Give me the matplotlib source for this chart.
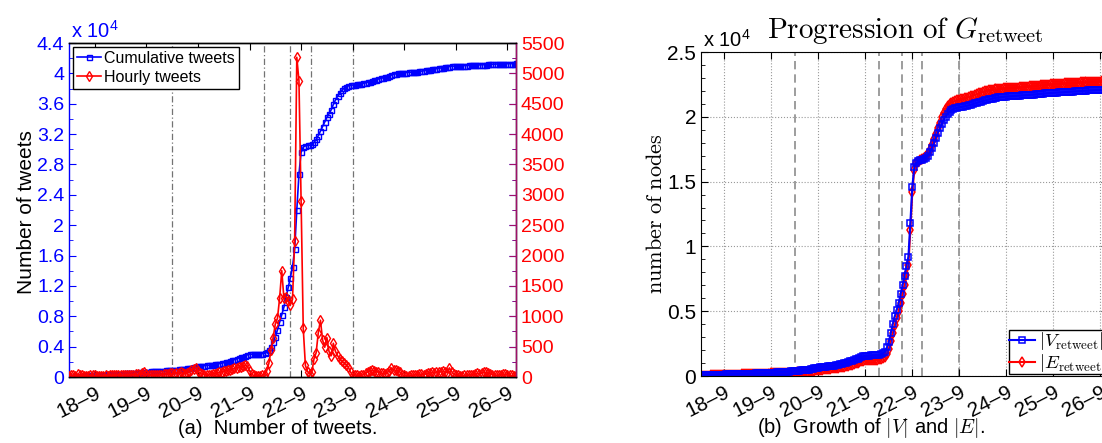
import numpy as np
import matplotlib
matplotlib.use('Agg')
import matplotlib.pyplot as plt
from matplotlib.ticker import MultipleLocator, FuncFormatter
from matplotlib.font_manager import FontProperties

plt.rcParams['font.family'] = ['Liberation Sans', 'DejaVu Sans']
plt.rcParams['mathtext.fontset'] = 'custom'
plt.rcParams['mathtext.rm'] = 'Liberation Sans'
plt.rcParams['mathtext.it'] = 'Liberation Sans:italic'

# hourly data, first sample at 17-9 12:00
hourly_tweets = (
    [20, 35, 25, 20, 45, 30, 25, 20, 15, 20, 25, 30]
    + [25, 20, 15, 15, 20, 25, 20, 25, 30, 25, 30, 35, 30, 25, 30, 35, 40, 35, 40, 50, 45, 40, 60, 90]
    + [45, 35, 30, 30, 25, 30, 35, 40, 45, 50, 55, 60, 60, 55, 70, 65, 80, 60, 55, 70, 90, 110, 130, 143]
    + [95, 60, 45, 40, 35, 35, 40, 50, 55, 65, 75, 85, 95, 105, 115, 120, 130, 140, 150, 160, 165, 175, 200, 180]
    + [100, 45, 25, 15, 15, 20, 30, 40]
    + [100, 226, 445, 650, 873, 967, 1296, 1751, 1300, 1322, 1250, 1186, 1280, 2235, 5265, 4880, 2904, 800, 190, 90,
       50, 80, 300, 400, 730, 935, 610, 490, 650, 420, 350, 555, 420, 350, 300, 260, 230, 200, 160, 80, 30]
    + [40, 25, 20, 25, 40, 60, 85, 100, 110, 105, 90, 80, 70, 60, 55, 70, 100, 150, 120, 110, 100, 80, 40, 25]
    + [20, 20, 25, 30, 35, 40, 50, 45, 40, 50, 60, 70, 75, 70, 80, 85, 90, 95, 80, 70, 150, 90, 50, 30]
    + [25, 20, 20, 25, 30, 35, 30, 40, 50, 60, 55, 70, 80, 75, 60, 50, 40, 30, 25, 30, 40, 50, 45, 35, 30, 25, 20, 20]
)

cumulative_tweets = (
    [0, 30, 60, 80, 110, 140, 160, 180, 190, 200, 220, 240]
    + [255, 270, 280, 290, 305, 320, 335, 350, 370, 385, 400, 420, 435, 450, 465, 480, 500, 520, 540, 560, 585, 610, 640, 680]
    + [700, 720, 735, 750, 765, 780, 800, 820, 840, 860, 880, 900, 920, 945, 970, 1000, 1030, 1060, 1090, 1120, 1170, 1230, 1290, 1350]
    + [1400, 1430, 1460, 1490, 1520, 1550, 1580, 1620, 1660, 1710, 1760, 1820, 1880, 1950, 2020, 2100, 2200, 2300, 2400, 2500, 2600, 2700, 2820, 2920]
    + [2980, 3010, 3030, 3040, 3050, 3060, 3080, 3110]
    + [3250, 3550, 4000, 4600, 5300, 6200, 7200, 8200, 9200, 10500, 11800, 13100, 14500, 16800, 22000, 26700, 29600, 30300, 30450, 30500,
       30550, 30650, 30900, 31300, 31800, 32400, 33000, 33600, 34200, 34700, 35200, 35900, 36500, 37000, 37450, 37800, 38050, 38250, 38350, 38420, 38460]
    + [38500, 38540, 38580, 38620, 38680, 38750, 38830, 38920, 39010, 39110, 39190, 39260, 39330, 39400, 39470, 39550, 39650, 39780, 39870, 39940, 40000, 40040, 40070, 40090]
    + [40110, 40130, 40150, 40170, 40200, 40230, 40260, 40300, 40340, 40390, 40440, 40490, 40530, 40570, 40620, 40670, 40720, 40770, 40820, 40860, 40900, 40940, 40960, 40980]
    + [40990, 41000, 41010, 41020, 41030, 41045, 41060, 41075, 41090, 41105, 41120, 41135, 41150, 41165, 41180, 41195, 41210, 41220, 41230, 41240, 41250, 41260, 41270, 41280, 41285, 41290, 41295, 41300]
)

nodes_retweet = (
    [20, 40, 55, 65, 75, 80, 85, 90, 95, 100, 105, 110]
    + [115, 120, 125, 130, 135, 140, 145, 150, 155, 160, 165, 170, 175, 180, 185, 190, 195, 200, 205, 210, 215, 220, 230, 240]
    + [250, 260, 270, 280, 290, 300, 310, 320, 330, 340, 350, 365, 380, 395, 410, 425, 440, 460, 480, 500, 520, 550, 580, 620]
    + [650, 670, 690, 710, 730, 750, 770, 790, 810, 840, 870, 900, 940, 980, 1020, 1070, 1120, 1170, 1230, 1290, 1350, 1410, 1470, 1520]
    + [1550, 1570, 1580, 1590, 1600, 1610, 1620, 1630]
    + [1680, 1760, 1880, 2200, 2650, 3300, 4000, 4600, 5100, 5600, 6300, 7000, 7700, 8500, 9200, 11830, 14610, 16100, 16450, 16580,
       16650, 16700, 16760, 16850, 17000, 17250, 17600, 17950, 18350, 18750, 19100, 19450, 19750, 20000, 20200, 20380, 20500, 20600, 20660, 20700, 20730]
    + [20760, 20790, 20820, 20850, 20890, 20930, 20980, 21030, 21080, 21130, 21180, 21220, 21260, 21300, 21340, 21380, 21410, 21440, 21470, 21490, 21510, 21530, 21545, 21560]
    + [21570, 21580, 21590, 21600, 21610, 21620, 21635, 21650, 21660, 21670, 21680, 21690, 21700, 21715, 21730, 21745, 21760, 21775, 21790, 21805, 21820, 21830, 21840, 21850]
    + [21860, 21870, 21880, 21890, 21900, 21910, 21920, 21930, 21940, 21950, 21960, 21970, 21980, 21990, 22000, 22010, 22020, 22030, 22040, 22050, 22060, 22065, 22070, 22080, 22085, 22090, 22095, 22100]
)

edges_retweet = (
    [0, 15, 25, 30, 35, 40, 45, 50, 55, 60, 65, 70]
    + [75, 80, 85, 90, 95, 100, 105, 110, 115, 120, 125, 130, 135, 140, 145, 150, 155, 160, 165, 170, 175, 180, 185, 190]
    + [195, 200, 205, 210, 215, 220, 225, 230, 235, 240, 245, 255, 265, 275, 285, 295, 305, 320, 335, 350, 365, 385, 405, 430]
    + [450, 470, 490, 510, 530, 550, 570, 590, 610, 630, 650, 670, 700, 730, 760, 800, 840, 880, 920, 970, 1020, 1070, 1120, 1170]
    + [1200, 1220, 1230, 1240, 1250, 1260, 1270, 1290]
    + [1320, 1380, 1480, 1700, 2100, 2700, 3300, 3900, 4500, 5000, 5600, 6300, 7000, 7800, 8600, 11300, 14200, 15900, 16400, 16550,
       16650, 16720, 16800, 16950, 17150, 17450, 17850, 18250, 18700, 19150, 19550, 19950, 20300, 20600, 20850, 21000, 21100, 21180, 21240, 21280, 21320]
    + [21360, 21400, 21440, 21480, 21530, 21580, 21630, 21690, 21750, 21810, 21870, 21920, 21970, 22010, 22040, 22070, 22090, 22110, 22130, 22150, 22165, 22180, 22190, 22200]
    + [22210, 22220, 22230, 22240, 22250, 22260, 22275, 22290, 22300, 22310, 22325, 22340, 22355, 22370, 22385, 22400, 22415, 22430, 22445, 22460, 22475, 22490, 22500, 22510]
    + [22520, 22530, 22540, 22550, 22560, 22570, 22580, 22590, 22600, 22610, 22620, 22630, 22640, 22650, 22660, 22670, 22680, 22690, 22695, 22700, 22705, 22710, 22715, 22720, 22725, 22730, 22735, 22740]
)

day_ticks = [18, 19, 20, 21, 22, 23, 24, 25, 26]
day_labels = ['18\u20139', '19\u20139', '20\u20139', '21\u20139', '22\u20139',
              '23\u20139', '24\u20139', '25\u20139', '26\u20139']
event_days = [19.5, 21.28, 21.79, 22.2, 23.0]

t = 17.5 + np.arange(len(hourly_tweets)) / 24.0
xlim = (t[0], t[-1])

W, H = 1102, 443
fig = plt.figure(figsize=(W / 100, H / 100), dpi=100)

# ---------- (a) tweets ----------
ax1 = fig.add_axes([69 / W, 1 - 377 / H, 447 / W, 334 / H])
ax2 = ax1.twinx()
for d in event_days:
    ax1.axvline(d, color='0.45', lw=0.9, ls=(0, (5, 2, 1, 2)), zorder=0)

l1, = ax1.plot(t, cumulative_tweets, '-s', color='blue', ms=3.6, mfc='none', mew=1.0, lw=1.2,
               label='Cumulative tweets')
l2, = ax2.plot(t, hourly_tweets, '-d', color='red', ms=4.6, mfc='none', mew=1.0, lw=1.2,
               label='Hourly tweets')

ax1.set_xlim(xlim)
ax1.set_ylim(0, 44000)
ax1.yaxis.set_major_locator(MultipleLocator(4000))
ax1.yaxis.set_minor_locator(MultipleLocator(2000))
ax1.yaxis.set_major_formatter(FuncFormatter(lambda v, p: '%g' % round(v / 1e4, 1)))
ax1.set_xticks(day_ticks)
ax1.set_xticklabels(day_labels, rotation=27, ha='right', rotation_mode='anchor', fontsize=15)
ax1.tick_params(axis='x', direction='in', top=True, length=5, pad=5)
ax1.tick_params(axis='y', which='both', direction='in', colors='blue', right=True, labelsize=14)
ax1.tick_params(axis='y', which='major', length=5)
ax1.tick_params(axis='y', which='minor', length=3)
ax1.spines['left'].set_color('blue')

ax2.set_ylim(0, 5500)
ax2.yaxis.set_major_locator(MultipleLocator(500))
ax2.yaxis.set_minor_locator(MultipleLocator(250))
ax2.tick_params(axis='y', which='both', direction='in', color='#a0106a', labelcolor='red', labelsize=14)
ax2.tick_params(axis='y', which='major', length=5)
ax2.tick_params(axis='y', which='minor', length=3)
ax2.spines['right'].set_color('#a0106a')
ax2.spines['left'].set_visible(False)
for sp in ['left', 'right', 'top', 'bottom']:
    ax1.spines[sp].set_linewidth(1.0)
    ax2.spines[sp].set_linewidth(1.0)

leg = ax1.legend([l1, l2], ['Cumulative tweets', 'Hourly tweets'], loc='upper left',
                 fontsize=11.5, fancybox=False, framealpha=1, edgecolor='black',
                 borderpad=0.25, labelspacing=0.25, handlelength=1.5, handletextpad=0.2,
                 borderaxespad=0.25)
leg.get_frame().set_linewidth(1.0)
leg.set_zorder(10)

fig.text(71 / W, 1 - 38 / H, 'x 10$^{\\mathrm{4}}$', color='blue', fontsize=14.5, va='baseline')
fig.text(26 / W, 1 - 212 / H, 'Number of tweets', rotation=90, fontsize=15, ha='center', va='center')
fig.text(278 / W, 1 - 428 / H, '(a)  Number of tweets.', fontsize=14.5, ha='center', va='center')

# ---------- (b) retweet graph ----------
ax3 = fig.add_axes([701 / W, 1 - 376 / H, 407 / W, 324 / H])
for d in event_days:
    ax3.axvline(d, color='0.55', lw=1.2, ls=(0, (5, 3)), zorder=1)
le, = ax3.plot(t, edges_retweet, '-d', color='red', ms=5, mfc='none', mew=1.1, lw=1.5)
lv, = ax3.plot(t, nodes_retweet, '-s', color='blue', ms=4.2, mfc='none', mew=1.1, lw=1.5)

ax3.set_xlim(xlim)
ax3.set_ylim(0, 25000)
ax3.yaxis.set_major_locator(MultipleLocator(5000))
ax3.yaxis.set_minor_locator(MultipleLocator(1000))
ax3.yaxis.set_major_formatter(FuncFormatter(lambda v, p: '%g' % round(v / 1e4, 2)))
ax3.set_xticks(day_ticks)
ax3.set_xticklabels(day_labels, rotation=27, ha='right', rotation_mode='anchor', fontsize=15)
ax3.grid(True, color='0.6', ls=':', lw=0.8)
ax3.tick_params(axis='both', which='both', direction='in', top=True, right=True, labelsize=15)
ax3.tick_params(axis='both', which='major', length=5)
ax3.tick_params(axis='y', which='minor', length=3)
ax3.tick_params(axis='x', pad=5)

cm13 = FontProperties(family='Liberation Sans', size=13.5, math_fontfamily='cm')
leg3 = ax3.legend([lv, le], [r'$|V_{\mathrm{retweet}}|$', r'$|E_{\mathrm{retweet}}|$'],
                  loc='lower right', prop=cm13, fancybox=False, framealpha=1, edgecolor='black',
                  borderpad=0.0, labelspacing=0.0, handlelength=1.4, handletextpad=0.2,
                  borderaxespad=0.1)
leg3.get_frame().set_linewidth(1.0)

fig.text(703 / W, 1 - 47 / H, 'x 10$^{\\mathrm{4}}$', fontsize=14.5, va='baseline')
fig.text(905 / W, 1 - 38 / H, r'$\mathrm{Progression\ of\ }G_{\mathrm{retweet}}$',
         math_fontfamily='cm', fontsize=21, ha='center', va='baseline')
fig.text(657 / W, 1 - 214 / H, r'$\mathrm{number\ of\ nodes}$', math_fontfamily='cm',
         rotation=90, fontsize=16, ha='center', va='center')
fig.text(871 / W, 1 - 428 / H, '(b)  Growth of $|V|$ and $|E|$.', math_fontfamily='cm',
         fontsize=14.5, ha='center', va='center')

fig.savefig('out.png', dpi=100)
